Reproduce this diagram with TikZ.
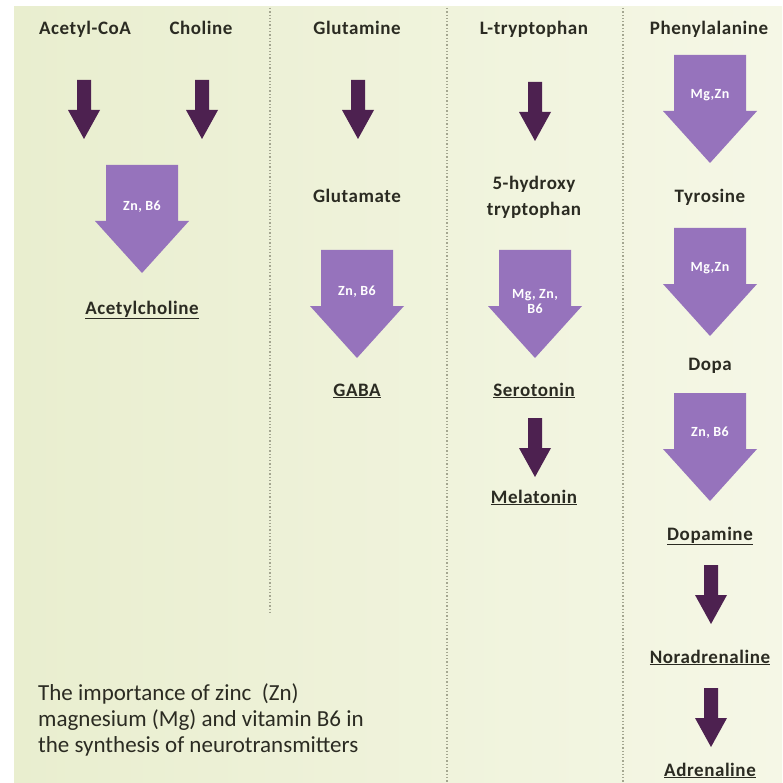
\documentclass[tikz,border=0pt]{standalone}
\usepackage{fontspec}
\setmainfont{Carlito}
\newfontfamily\lblfont[LetterSpace=3]{Carlito}
\definecolor{bgA}{HTML}{E9EECF}
\definecolor{bgB}{HTML}{F5F7E6}
\definecolor{lav}{HTML}{9673BC}
\definecolor{plum}{HTML}{4D2150}
\definecolor{txt}{HTML}{2B2B22}
\definecolor{dots}{HTML}{A4A690}
\tikzset{
 lbl/.style={font=\lblfont\bfseries\fontsize{19}{26}\selectfont, text=txt, inner sep=0pt, align=center},
 one/.style={text height=18pt, text depth=2pt},
 arrtxt/.style={font=\lblfont\bfseries\fontsize{14}{15}\selectfont, text=white, align=center, inner sep=0pt},
 bigarrow/.pic={\fill[lav] (-36,0) -- (36,0) -- (36,56) -- (47,56) -- (0,108) -- (-47,56) -- (-36,56) -- cycle;},
 darkarrow/.pic={\fill[plum] (-7,0) -- (7,0) -- (7,30) -- (16,30) -- (0,59) -- (-16,30) -- (-7,30) -- cycle;},
 sepline/.style={draw=dots, line width=1.3pt, dotted}
}
\begin{document}
\begin{tikzpicture}[x=1pt,y=-1pt]
\useasboundingbox (0,0) rectangle (782,783);
\fill[white] (0,0) rectangle (782,783);
\shade[left color=bgA, right color=bgB] (14,7) rectangle (782,783);
% separators
\coordinate (s1t) at (270,8); \coordinate (s1b) at (270,612);
\coordinate (s2t) at (447,8); \coordinate (s2b) at (447,783);
\coordinate (s3t) at (623,8); \coordinate (s3b) at (623,783);
\draw[sepline] (s1t) -- (s1b);
\draw[sepline] (s2t) -- (s2b);
\draw[sepline] (s3t) -- (s3b);
% column 1
\node[lbl,one] (acoa) at (85,27) {Acetyl-CoA};
\node[lbl,one] (chol) at (201,27) {Choline};
\pic (d1) at (84,80) {darkarrow};
\pic (d2) at (202,80) {darkarrow};
\pic (b1) at (142,165) {bigarrow};
\node[arrtxt] (t1) at (142,207) {Zn, B6};
\node[lbl,one] (ach) at (142,306) {\underline{Acetylcholine}};
% column 2
\node[lbl,one] (glutn) at (357,27) {Glutamine};
\pic (d3) at (358,80) {darkarrow};
\node[lbl,one] (glu) at (357,195) {Glutamate};
\pic (b2) at (357,250) {bigarrow};
\node[arrtxt] (t2) at (357,292) {Zn, B6};
\node[lbl,one] (gaba) at (357,388) {\underline{GABA}};
% column 3
\node[lbl,one] (ltrp) at (534,27) {L-tryptophan};
\pic (d4) at (535,82) {darkarrow};
\node[lbl] (hyd) at (534,197) {5-hydroxy\\tryptophan};
\pic (b3) at (535,250) {bigarrow};
\node[arrtxt] (t3) at (535,302) {Mg, Zn,\\B6};
\node[lbl,one] (ser) at (534,388) {\underline{Serotonin}};
\pic (d5) at (535,418) {darkarrow};
\node[lbl,one] (mel) at (534,495) {\underline{Melatonin}};
% column 4
\node[lbl,one] (phe) at (709,27) {Phenylalanine};
\pic (b4) at (710,55) {bigarrow};
\node[arrtxt] (t4) at (710,95) {Mg,Zn};
\node[lbl,one] (tyr) at (710,195) {Tyrosine};
\pic (b5) at (710,228) {bigarrow};
\node[arrtxt] (t5) at (710,268) {Mg,Zn};
\node[lbl,one] (dopa) at (710,362) {Dopa};
\pic (b6) at (710,393) {bigarrow};
\node[arrtxt] (t6) at (710,433) {Zn, B6};
\node[lbl,one] (dopam) at (710,532) {\underline{Dopamine}};
\pic (d6) at (711,565) {darkarrow};
\node[lbl,one] (nor) at (710,655) {\underline{Noradrenaline}};
\pic (d7) at (711,688) {darkarrow};
\node[lbl,one] (adr) at (710,768) {\underline{Adrenaline}};
% caption
\node[font=\fontsize{23}{26}\selectfont, text=txt, align=left, anchor=west, inner sep=0pt] (cap) at (38,720)
 {The importance of zinc\ \ (Zn)\\magnesium (Mg) and vitamin B6 in\\the synthesis of neurotransmitters};
\end{tikzpicture}
\end{document}
